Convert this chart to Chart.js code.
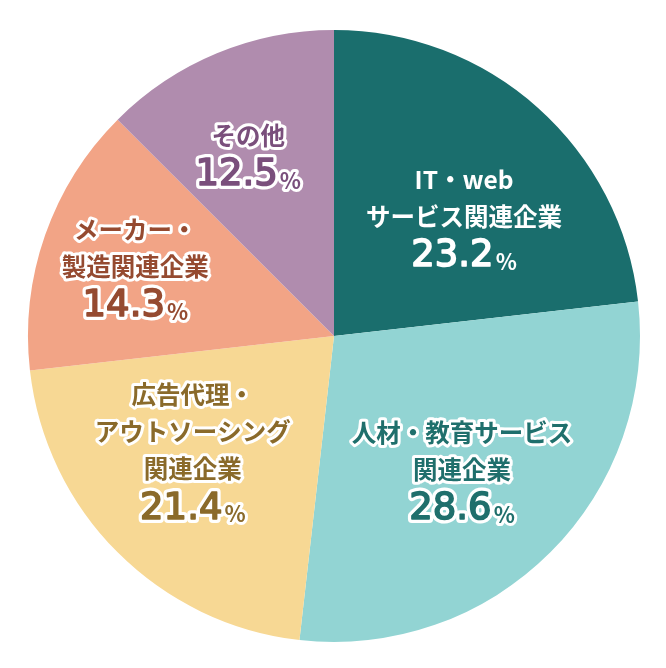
<!DOCTYPE html>
<html>
<head>
<meta charset="utf-8">
<script src="https://cdn.jsdelivr.net/npm/chart.js@4.4.1/dist/chart.umd.min.js"></script>
<style>
  html, body { margin: 0; padding: 0; background: #ffffff; }
  #wrap { width: 666px; height: 668px; }
</style>
</head>
<body>
<div id="wrap"><canvas id="pie"></canvas></div>
<script>
// slices, clockwise from 12 o'clock
const categories = [
  ['IT・web', 'サービス関連企業'],
  ['人材・教育サービス', '関連企業'],
  ['広告代理・', 'アウトソーシング', '関連企業'],
  ['メーカー・', '製造関連企業'],
  ['その他']
];
const shares = [23.2, 28.6, 21.4, 14.3, 12.5];

const sliceColors = ['#1a6e6d', '#92d4d3', '#f7d894', '#f2a486', '#b08cae'];
const textColors = ['#ffffff', '#1f6f6c', '#8a6a2a', '#954a30', '#7a4f7c'];
const outlined = [false, true, true, true, true];

// where each label block sits: fraction of radius, shift from the mid angle (deg)
const labelRadius = [0.574, 0.608, 0.597, 0.686, 0.654];
const labelShift = [6, 1.5, 5.6, -0.4, -2.9];

const JP = '"Noto Sans CJK JP", "Noto Sans", sans-serif';
const NUM = '"DejaVu Sans", sans-serif';

const pieLabels = {
  id: 'pieLabels',
  afterDatasetsDraw(chart) {
    const ctx = chart.ctx;
    const arcs = chart.getDatasetMeta(0).data;
    arcs.forEach((arc, i) => {
      const p = arc.getProps(['x', 'y', 'startAngle', 'endAngle', 'outerRadius'], true);
      const ang = (p.startAngle + p.endAngle) / 2 + labelShift[i] * Math.PI / 180;
      const r = p.outerRadius * labelRadius[i];
      const cx = p.x + Math.cos(ang) * r;
      const cy = p.y + Math.sin(ang) * r;

      const lines = categories[i];
      const lineGap = 37, pctGap = 40;
      const span = lineGap * (lines.length - 1) + pctGap;
      let y = cy - span / 2;

      ctx.save();
      ctx.textBaseline = 'middle';
      ctx.lineJoin = 'round';
      ctx.fillStyle = textColors[i];

      ctx.textAlign = 'center';
      ctx.font = 'bold 24.5px ' + JP;
      lines.forEach(t => {
        if (outlined[i]) {
          ctx.lineWidth = 6;
          ctx.strokeStyle = '#ffffff';
          ctx.strokeText(t, cx, y);
        }
        ctx.fillText(t, cx, y);
        y += lineGap;
      });
      y += pctGap - lineGap;

      // big number + small %
      const num = shares[i].toFixed(1);
      const numFont = '37px ' + NUM;
      const pctFont = 'bold 22px ' + JP;
      ctx.font = numFont;
      const wNum = ctx.measureText(num).width;
      ctx.font = pctFont;
      const wPct = ctx.measureText('%').width;
      const x0 = cx - (wNum + wPct + 2) / 2;
      ctx.textAlign = 'left';
      ctx.font = numFont;
      if (outlined[i]) {
        ctx.lineWidth = 8;
        ctx.strokeStyle = '#ffffff';
        ctx.strokeText(num, x0, y);
      }
      ctx.lineWidth = 1.6;
      ctx.strokeStyle = textColors[i];
      ctx.strokeText(num, x0, y);
      ctx.fillText(num, x0, y);
      ctx.font = pctFont;
      if (outlined[i]) {
        ctx.lineWidth = 6;
        ctx.strokeStyle = '#ffffff';
        ctx.strokeText('%', x0 + wNum + 2, y + 5);
      }
      ctx.fillText('%', x0 + wNum + 2, y + 5);
      ctx.restore();
    });
  }
};

new Chart(document.getElementById('pie'), {
  type: 'pie',
  data: {
    labels: categories.map(l => l.join('')),
    datasets: [{
      data: shares,
      backgroundColor: sliceColors,
      borderWidth: 0
    }]
  },
  options: {
    responsive: true,
    maintainAspectRatio: false,
    animation: false,
    layout: { padding: { left: 28, right: 26, top: 30, bottom: 26 } },
    plugins: {
      legend: { display: false },
      tooltip: { enabled: false }
    }
  },
  plugins: [pieLabels]
});
</script>
</body>
</html>
